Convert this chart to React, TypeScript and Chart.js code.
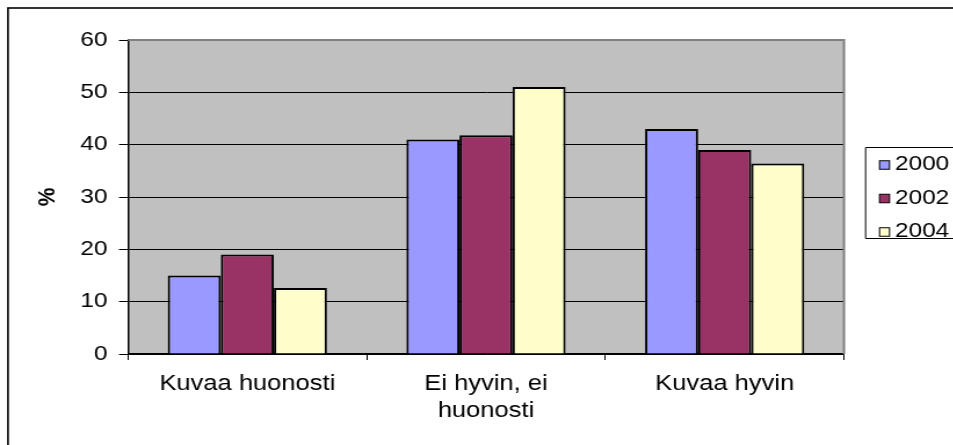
import React, { useEffect, useRef } from 'react';
import { Chart, registerables } from 'chart.js';

Chart.register(...registerables);

// ---- data ----
const categories: (string | string[])[] = ['Kuvaa huonosti', ['Ei hyvin, ei', 'huonosti'], 'Kuvaa hyvin'];
const years = ['2000', '2002', '2004'];
const values2000 = [15, 41, 43];
const values2002 = [19, 41.8, 39];
const values2004 = [12.6, 51, 36.4];
const yMin = 0;
const yMax = 60;
const yStep = 10;
const yTitle = '%';
const seriesColors = ['#9999FF', '#993366', '#FFFFCC'];

// ---- layout (reference px, horizontally stretched image) ----
const SX = 1.16;
const CW = Math.round(953 / SX);
const CH = 445;
const rx = (x: number) => x / SX;
const FONT = "'Liberation Sans', Arial, sans-serif";

const PLOT_LEFT = 128;
const PLOT_RIGHT = 844;
const PLOT_TOP = 40;
const PLOT_BOTTOM = 354;

export default function App() {
  const ref = useRef<HTMLCanvasElement | null>(null);

  useEffect(() => {
    if (!ref.current) return;
    const seriesValues = [values2000, values2002, values2004];

    const decor = {
      id: 'decor',
      beforeDraw(chart: any) {
        const { ctx, chartArea } = chart;
        ctx.save();
        ctx.fillStyle = '#ffffff';
        ctx.fillRect(0, 0, chart.width, chart.height);
        ctx.fillStyle = '#C0C0C0';
        ctx.fillRect(chartArea.left, chartArea.top, chartArea.right - chartArea.left, chartArea.bottom - chartArea.top);
        ctx.restore();
      },
      beforeDatasetsDraw(chart: any) {
        const { ctx, chartArea } = chart;
        ctx.save();
        ctx.strokeStyle = '#808080';
        ctx.lineWidth = 2;
        ctx.beginPath();
        ctx.moveTo(chartArea.left, chartArea.top);
        ctx.lineTo(chartArea.right, chartArea.top);
        ctx.lineTo(chartArea.right, chartArea.bottom);
        ctx.stroke();
        ctx.restore();
      },
      afterDraw(chart: any) {
        const { ctx } = chart;
        ctx.save();
        // outer chart border
        ctx.strokeStyle = '#000000';
        ctx.lineWidth = 1.6;
        ctx.strokeRect(rx(8), 8, CW + 40, CH + 40);
        // legend
        const lx = rx(865);
        const ly = 147;
        const lh = 91;
        ctx.fillStyle = '#ffffff';
        ctx.fillRect(lx, ly, CW, lh);
        ctx.lineWidth = 1;
        ctx.strokeStyle = '#000000';
        ctx.beginPath();
        ctx.moveTo(CW + 20, ly + 0.5);
        ctx.lineTo(lx + 0.5, ly + 0.5);
        ctx.lineTo(lx + 0.5, ly + lh + 0.5);
        ctx.lineTo(CW + 20, ly + lh + 0.5);
        ctx.stroke();
        const rowY = [163.5, 197, 230.5];
        ctx.font = `21px ${FONT}`;
        ctx.textBaseline = 'middle';
        ctx.textAlign = 'left';
        years.forEach((y, i) => {
          const cy = rowY[i];
          const sw = rx(10);
          const sh = 8.5;
          ctx.fillStyle = seriesColors[i];
          ctx.fillRect(rx(879.5), cy - sh / 2 + 1.5, sw, sh);
          ctx.strokeStyle = '#000000';
          ctx.lineWidth = 1;
          ctx.strokeRect(rx(879.5), cy - sh / 2 + 1.5, sw, sh);
          ctx.fillStyle = '#000000';
          ctx.fillText(y, rx(895), cy + 1);
        });
        ctx.restore();
      },
    };

    const chart = new Chart(ref.current, {
      type: 'bar',
      data: {
        labels: categories as any,
        datasets: years.map((y, i) => ({
          label: y,
          data: seriesValues[i],
          backgroundColor: seriesColors[i],
          borderColor: '#000000',
          borderWidth: 2,
          barPercentage: 1,
          categoryPercentage: 0.667,
        })),
      },
      options: {
        responsive: false,
        maintainAspectRatio: false,
        animation: false,
        devicePixelRatio: 1,
        layout: {
          padding: { left: 0, right: CW - rx(PLOT_RIGHT), top: PLOT_TOP, bottom: 0 },
        },
        plugins: {
          legend: { display: false },
          tooltip: { enabled: false },
          title: { display: false },
        },
        scales: {
          x: {
            offset: true,
            afterFit(scale: any) {
              scale.height = CH - PLOT_BOTTOM;
            },
            grid: {
              offset: true,
              drawOnChartArea: false,
              drawTicks: true,
              tickLength: 6,
              color: '#000000',
              lineWidth: 1,
            },
            border: { display: true, color: '#000000', width: 1.5 },
            ticks: {
              color: '#000000',
              font: { family: FONT, size: 22, lineHeight: 1.25 },
              padding: 10,
              maxRotation: 0,
              minRotation: 0,
              autoSkip: false,
            },
          },
          y: {
            min: yMin,
            max: yMax,
            afterFit(scale: any) {
              scale.width = rx(PLOT_LEFT);
            },
            grid: {
              color: '#000000',
              lineWidth: 1,
              drawTicks: true,
              tickLength: rx(9),
            },
            border: { display: true, color: '#000000', width: 1.5 },
            ticks: {
              stepSize: yStep,
              color: '#000000',
              font: { family: FONT, size: 21 },
              padding: 10,
            },
            title: {
              display: true,
              text: yTitle,
              color: '#000000',
              font: { family: FONT, size: 21, weight: 'bold' },
              padding: { top: 29, bottom: 0 },
            },
          },
        },
      },
      plugins: [decor],
    } as any);

    return () => chart.destroy();
  }, []);

  return (
    <div
      style={{
        position: 'fixed',
        left: 0,
        top: 0,
        width: 953,
        height: 445,
        overflow: 'hidden',
        background: '#ffffff',
      }}
    >
      <div
        style={{
          position: 'absolute',
          left: 0,
          top: 0,
          width: CW,
          height: CH,
          transform: `scaleX(${SX})`,
          transformOrigin: '0 0',
        }}
      >
        <canvas ref={ref} width={CW} height={CH} style={{ display: 'block' }} />
      </div>
    </div>
  );
}
